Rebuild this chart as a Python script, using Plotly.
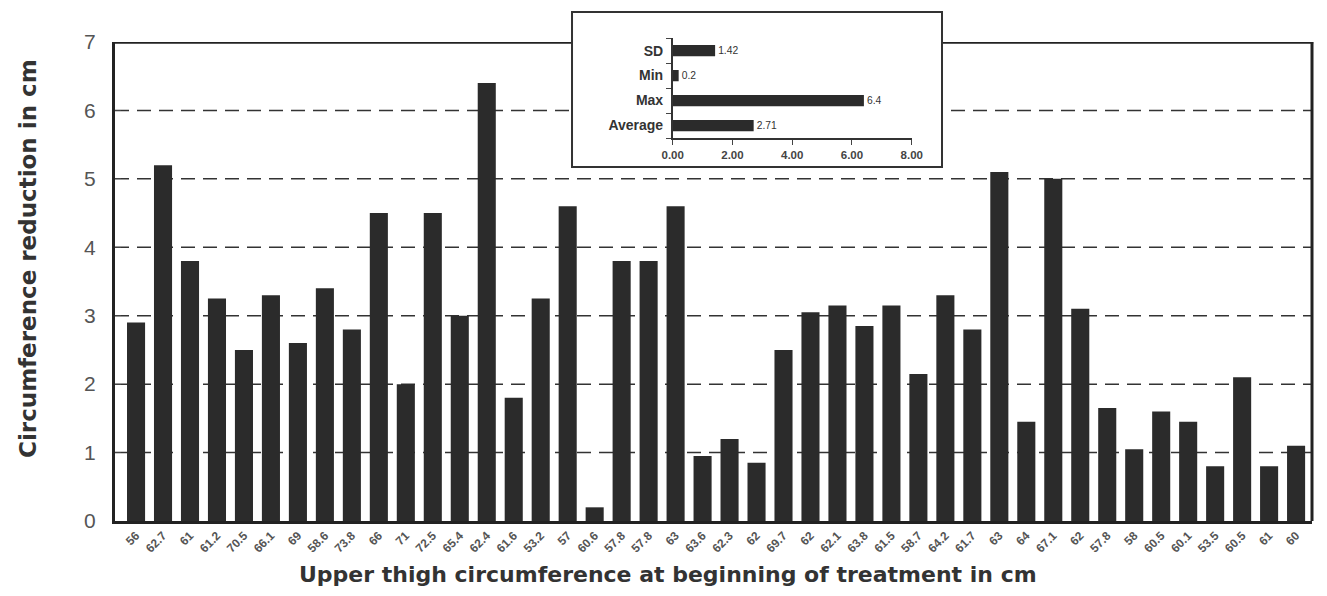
import plotly.graph_objects as go

# Main chart data
thigh_labels = ["56", "62.7", "61", "61.2", "70.5", "66.1", "69", "58.6", "73.8", "66",
                "71", "72.5", "65.4", "62.4", "61.6", "53.2", "57", "60.6", "57.8", "57.8",
                "63", "63.6", "62.3", "62", "69.7", "62", "62.1", "63.8", "61.5", "58.7",
                "64.2", "61.7", "63", "64", "67.1", "62", "57.8", "58", "60.5", "60.1",
                "53.5", "60.5", "61", "60"]
reduction = [2.9, 5.2, 3.8, 3.25, 2.5, 3.3, 2.6, 3.4, 2.8, 4.5,
             2.0, 4.5, 3.0, 6.4, 1.8, 3.25, 4.6, 0.2, 3.8, 3.8,
             4.6, 0.95, 1.2, 0.85, 2.5, 3.05, 3.15, 2.85, 3.15, 2.15,
             3.3, 2.8, 5.1, 1.45, 5.0, 3.1, 1.65, 1.05, 1.6, 1.45,
             0.8, 2.1, 0.8, 1.1]

# Inset summary data
stat_names = ["Average", "Max", "Min", "SD"]
stat_values = [2.71, 6.4, 0.2, 1.42]
stat_text = ["2.71", "6.4", "0.2", "1.42"]
inset_ticks = [0, 2, 4, 6, 8]
inset_ticktext = ["0.00", "2.00", "4.00", "6.00", "8.00"]

y_ticks = [0, 1, 2, 3, 4, 5, 6, 7]
grid_levels = [1, 2, 3, 4, 5, 6]
y_top = 7

x_title = "Upper thigh circumference at beginning of treatment in cm"
y_title = "Circumference reduction in cm"

positions = list(range(len(reduction)))

BOX_X0, BOX_X1 = 0.3818, 0.6909

fig = go.Figure()
fig.add_trace(go.Bar(x=positions, y=reduction, marker=dict(color="#2b2b2b", line=dict(width=0)),
                     showlegend=False))
fig.add_trace(go.Bar(x=stat_values, y=stat_names, orientation="h", xaxis="x2", yaxis="y2",
                     marker=dict(color="#2b2b2b", line=dict(width=0)), text=stat_text,
                     textposition="outside", cliponaxis=False,
                     textfont=dict(family="Liberation Sans", size=11, color="#333"),
                     showlegend=False, width=0.45))

shapes = []
for g in grid_levels:
    shapes.append(dict(type="line", xref="paper", yref="y", x0=0, x1=1, y0=g, y1=g,
                       line=dict(color="#333", width=1.5, dash="14px,8px"), layer="below"))
# top frame line, interrupted by the inset box
shapes.append(dict(type="line", xref="paper", yref="y", x0=-0.001, x1=BOX_X0, y0=y_top, y1=y_top,
                   line=dict(color="#222", width=3.5), layer="below"))
shapes.append(dict(type="line", xref="paper", yref="y", x0=BOX_X1, x1=1.001, y0=y_top, y1=y_top,
                   line=dict(color="#222", width=3.5), layer="below"))
# inset box
shapes.append(dict(type="rect", xref="paper", yref="paper", x0=BOX_X0, x1=BOX_X1,
                   y0=0.693, y1=0.996, fillcolor="white",
                   line=dict(color="#333", width=2), layer="below"))
# right frame line
shapes.append(dict(type="line", xref="paper", yref="y", x0=1, x1=1, y0=0, y1=y_top,
                   line=dict(color="#222", width=3), layer="below"))

annotations = [
    dict(text=x_title, xref="paper", yref="paper", x=0.462, y=-0.1045, showarrow=False,
         xanchor="center", yanchor="middle",
         font=dict(family="DejaVu Sans", size=22, color="#333", weight="bold")),
    dict(text=y_title, xref="paper", yref="paper", x=-0.0727, y=0.5147, showarrow=False,
         xanchor="center", yanchor="middle", textangle=-90,
         font=dict(family="DejaVu Sans", size=23, color="#333", weight="bold")),
]

fig.update_layout(
    width=1311, height=580,
    margin=dict(l=107, r=7, t=2, b=67, autoexpand=False),
    paper_bgcolor="white", plot_bgcolor="rgba(0,0,0,0)",
    bargap=0.33,
    shapes=shapes,
    annotations=annotations,
    font=dict(family="Liberation Sans", color="#333"),
    xaxis=dict(
        tickmode="array", tickvals=positions, ticktext=thigh_labels,
        tickangle=-45, tickfont=dict(family="Liberation Sans", size=12, color="#555", weight="bold"),
        range=[-0.78, len(positions) - 1 + 0.59], automargin=False,
        showline=True, mirror=False, linecolor="#222", linewidth=3,
        showgrid=False, zeroline=False, ticks="",
    ),
    yaxis=dict(
        domain=[0, 0.9374], range=[0, y_top], tickvals=y_ticks, automargin=False,
        tickfont=dict(family="Liberation Sans", size=21, color="#555"),
        ticklabelstandoff=12,
        showline=True, mirror=False, linecolor="#222", linewidth=3,
        showgrid=False, zeroline=False, ticks="inside", ticklen=6, tickcolor="#444",
    ),
    xaxis2=dict(
        domain=[0.4659, 0.6656], anchor="y2", range=[0, 8], automargin=False,
        tickvals=inset_ticks, ticktext=inset_ticktext,
        tickfont=dict(family="Liberation Sans", size=11.5, color="#444", weight="bold"),
        showline=True, linecolor="#333", linewidth=1.5, ticks="outside", ticklen=5,
        showgrid=False, zeroline=False,
    ),
    yaxis2=dict(
        domain=[0.7495, 0.945], anchor="x2", automargin=False,
        tickfont=dict(family="Liberation Sans", size=14, color="#333", weight="bold"),
        ticklabelstandoff=5,
        showline=True, linecolor="#333", linewidth=1.5, ticks="outside", ticklen=5,
        tickson="boundaries",
        showgrid=False, zeroline=False, categoryorder="array", categoryarray=stat_names,
    ),
)

fig.write_html("out.html")
